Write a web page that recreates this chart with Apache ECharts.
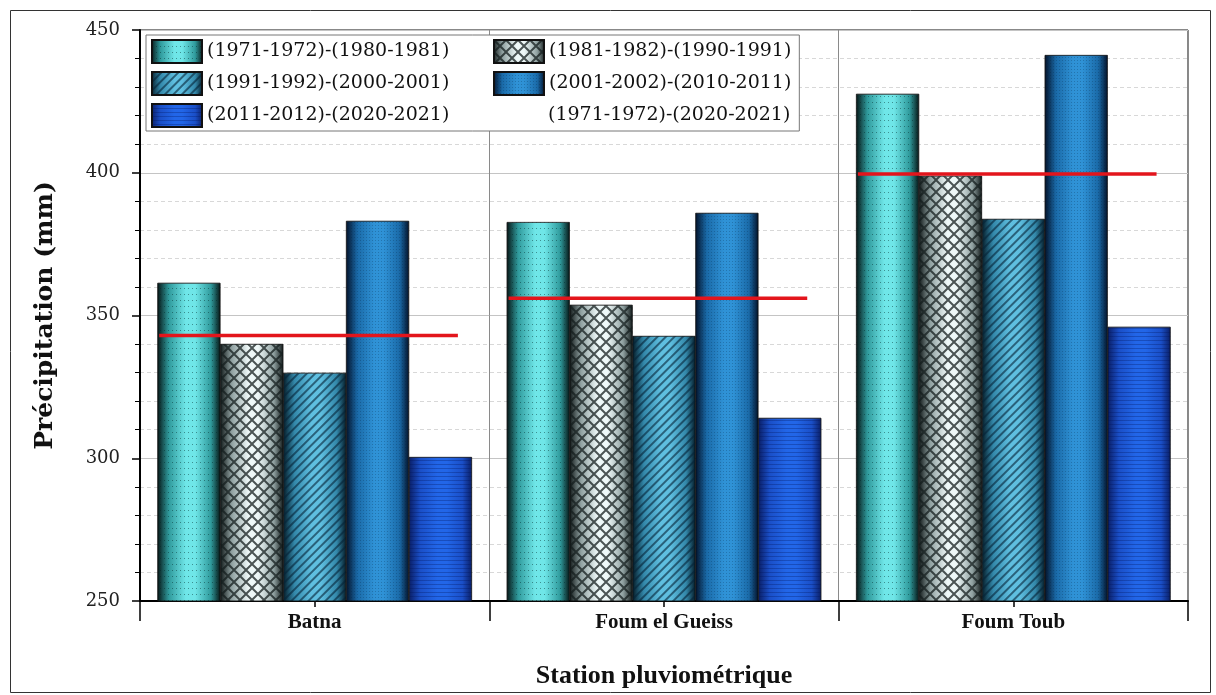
<!DOCTYPE html>
<html>
<head>
<meta charset="utf-8">
<script src="https://cdn.jsdelivr.net/npm/echarts@6/dist/echarts.min.js"></script>
<style>
  html, body { margin: 0; padding: 0; background: #fff; }
  #chart { width: 1216px; height: 695px; }
</style>
</head>
<body>
<div id="chart"></div>
<script>
// Stations on the category axis
const stations = ['Batna', 'Foum el Gueiss', 'Foum Toub'];

// Decade periods (bar series names)
const periods = [
  '(1971-1972)-(1980-1981)',
  '(1981-1982)-(1990-1991)',
  '(1991-1992)-(2000-2001)',
  '(2001-2002)-(2010-2011)',
  '(2011-2012)-(2020-2021)'
];
const wholePeriod = '(1971-1972)-(2020-2021)';

// Mean precipitation (mm) per decade, one value per station
const decade1 = [361.4, 382.7, 427.6];
const decade2 = [340.0, 353.7, 398.9];
const decade3 = [329.9, 342.8, 383.8];
const decade4 = [383.1, 385.9, 441.2];
const decade5 = [300.4, 314.1, 346.0];

// Mean precipitation (mm) over the whole 1971-2021 period
const wholeMean = [343.0, 356.0, 399.6];

// Y axis range and tick step
const yMin = 250, yMax = 450, yStep = 50;

const decadeValues = [decade1, decade2, decade3, decade4, decade5];

function cylinder(edge, mid, light) {
  return new echarts.graphic.LinearGradient(0, 0, 1, 0, [
    { offset: 0, color: edge },
    { offset: 0.18, color: mid },
    { offset: 0.45, color: light },
    { offset: 0.6, color: light },
    { offset: 0.85, color: mid },
    { offset: 1, color: edge }
  ]);
}

const fills = [
  cylinder('#061616', '#2f9a9c', '#6fe6e8'),
  cylinder('#121a1a', '#8fa0a0', '#eef8f8'),
  cylinder('#051c28', '#3388aa', '#5fbfe0'),
  cylinder('#03122a', '#1a6aa8', '#2f92d6'),
  cylinder('#0a1e66', '#1a4fc8', '#2266e8')
];

const decals = [
  { symbol: 'rect', symbolSize: 1, dashArrayX: [1, 3], dashArrayY: [1, 5], color: 'rgba(0,40,40,0.45)' },
  { symbol: 'path://M0,0 L1.4,0 L12,10.6 L12,12 L10.6,12 L0,1.4 Z M10.6,0 L12,0 L12,1.4 L1.4,12 L0,12 L0,10.6 Z',
    symbolSize: 1, dashArrayX: [12, 0], dashArrayY: [12, 0], color: 'rgba(20,30,30,0.75)' },
  { symbol: 'rect', symbolSize: 1, dashArrayX: [1, 0], dashArrayY: [2, 4], rotation: -Math.PI / 4, color: 'rgba(5,35,55,0.6)' },
  { symbol: 'rect', symbolSize: 1, dashArrayX: [1, 2], dashArrayY: [1, 2], color: 'rgba(0,30,60,0.25)' },
  { symbol: 'rect', symbolSize: 1, dashArrayX: [1, 0], dashArrayY: [1, 3], color: 'rgba(0,20,90,0.3)' }
];

const barSeries = periods.map((name, k) => ({
  name: name,
  type: 'bar',
  xAxisIndex: 0,
  barGap: '0%',
  barCategoryGap: '10%',
  itemStyle: { color: fills[k], borderColor: '#111', borderWidth: 0.5, decal: decals[k] },
  emphasis: { disabled: true },
  data: decadeValues[k]
}));

// Whole-period mean drawn as a red segment across each station group
const meanSeries = {
  name: wholePeriod,
  type: 'custom',
  xAxisIndex: 0,
  z: 5,
  itemStyle: { color: 'rgba(0,0,0,0)' },
  renderItem: function (params, api) {
    const p = api.coord([api.value(0), api.value(1)]);
    const band = api.size([1, 0])[0];
    return {
      type: 'line',
      shape: { x1: p[0] - band * 0.445, y1: p[1], x2: p[0] + band * 0.41, y2: p[1] },
      style: { stroke: '#e3151c', lineWidth: 3.5 }
    };
  },
  encode: { x: 0, y: 1 },
  data: wholeMean.map((v, i) => [i, v])
};

const legendFont = { fontFamily: 'DejaVu Serif', fontSize: 19, color: '#111', lineHeight: 24 };
const legendData = [
  { name: periods[0], icon: 'rect', textStyle: Object.assign({ width: 279 }, legendFont) },
  { name: periods[1], icon: 'rect' },
  { name: periods[2], icon: 'rect', textStyle: Object.assign({ width: 279 }, legendFont) },
  { name: periods[3], icon: 'rect' },
  { name: periods[4], icon: 'rect', textStyle: Object.assign({ width: 279 }, legendFont) },
  { name: wholePeriod, icon: 'rect', itemStyle: { opacity: 0 } }
];

const chart = echarts.init(document.getElementById('chart'), null, { renderer: 'canvas' });
chart.setOption({
  backgroundColor: '#fff',
  animation: false,
  grid: { left: 140, right: 28, top: 30, bottom: 94, show: true, borderColor: '#111', borderWidth: 1 },
  graphic: [{
    type: 'rect', left: 8, top: 8, z: -10,
    shape: { width: 1200, height: 682 },
    style: { fill: 'none', stroke: '#333', lineWidth: 1 }
  }],
  legend: {
    left: 146, top: 35, width: 680,
    orient: 'horizontal',
    itemWidth: 50, itemHeight: 23, itemGap: 7,
    padding: [4, 8, 3, 5],
    borderColor: '#777', borderWidth: 1, backgroundColor: '#fff',
    textStyle: legendFont,
    data: legendData,
    selectedMode: false
  },
  xAxis: [{
    type: 'category',
    data: stations,
    position: 'bottom',
    name: 'Station pluviométrique',
    nameLocation: 'middle',
    nameGap: 62,
    nameTextStyle: { fontFamily: 'Liberation Serif', fontWeight: 'bold', fontSize: 26, color: '#111' },
    axisLine: { lineStyle: { color: '#000', width: 2 } },
    axisTick: { show: true, length: 20, lineStyle: { color: '#000', width: 1.5 } },
    axisLabel: { margin: 11, fontFamily: 'Liberation Serif', fontWeight: 'bold', fontSize: 21, color: '#111' },
    splitLine: { show: true, interval: 0, lineStyle: { color: '#8a8a8a', width: 1 } }
  }, {
    type: 'category',
    data: stations,
    position: 'bottom',
    axisLine: { show: false },
    axisTick: { show: true, alignWithLabel: true, length: 6, lineStyle: { color: '#000', width: 1.5 } },
    axisLabel: { show: false },
    splitLine: { show: false }
  }],
  yAxis: {
    type: 'value',
    min: yMin, max: yMax, interval: yStep,
    name: 'Précipitation (mm)',
    nameLocation: 'middle',
    nameGap: 82,
    nameTextStyle: { fontFamily: 'DejaVu Serif', fontWeight: 'bold', fontSize: 25, color: '#111' },
    axisLine: { show: true, lineStyle: { color: '#000', width: 2 } },
    axisTick: { show: true, length: 8, lineStyle: { color: '#000', width: 1.5 } },
    minorTick: { show: true, splitNumber: 5, length: 5, lineStyle: { color: '#000', width: 1 } },
    axisLabel: { margin: 20, fontFamily: 'DejaVu Serif', fontSize: 18, color: '#222' },
    splitLine: { show: true, lineStyle: { color: '#c4c4c4', width: 1 } },
    minorSplitLine: { show: true, lineStyle: { color: '#d8d8d8', width: 1, type: [4, 3] } }
  },
  series: barSeries.concat([meanSeries])
});
</script>
</body>
</html>
